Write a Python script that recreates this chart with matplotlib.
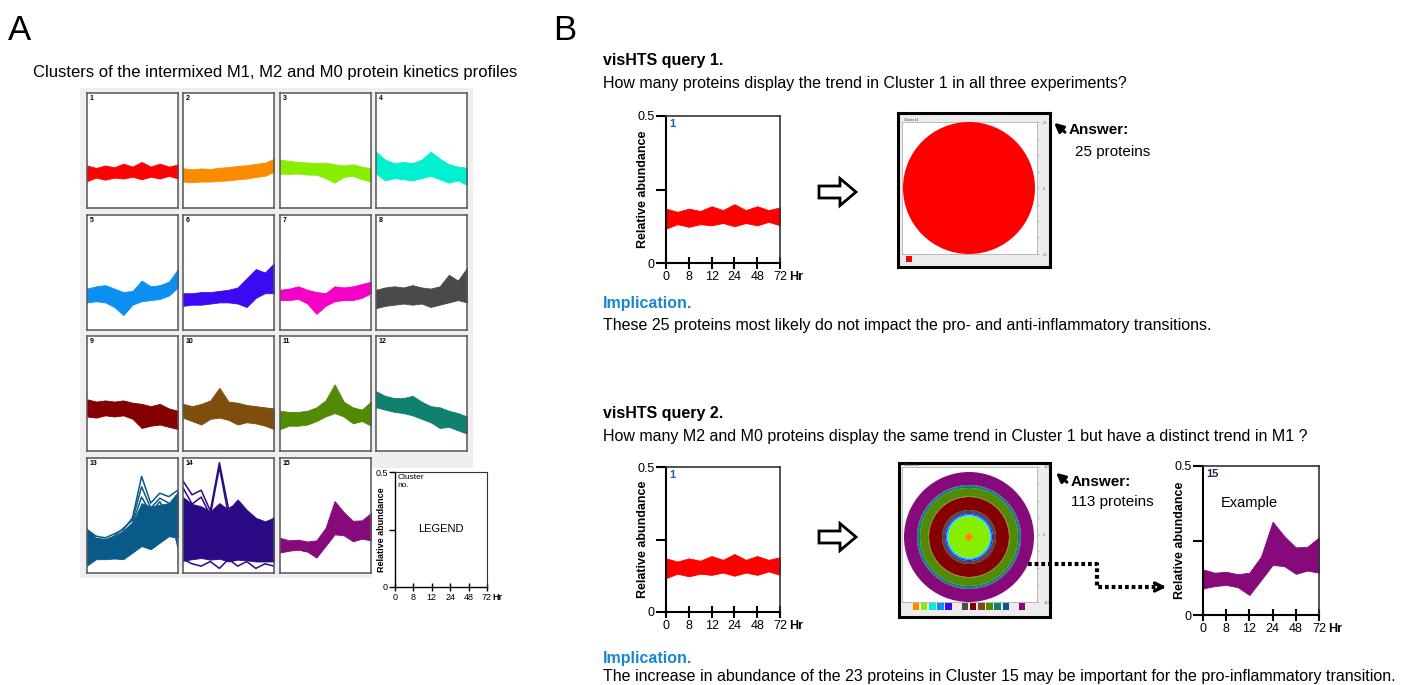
import numpy as np
import matplotlib.pyplot as plt
from matplotlib.patches import Polygon, FancyArrow

plt.rcParams['font.family'] = ['Liberation Sans', 'DejaVu Sans']

W, H = 1418, 685

# time axis: the six sampled points plus half steps between them
time_pts = [0, 0.5, 1, 1.5, 2, 2.5, 3, 3.5, 4, 4.5, 5]
hr_labels = ['0', '8', '12', '24', '48', '72']

cluster_colors = ['#ff0000', '#fb8c00', '#88ee00', '#00f0d0', '#0d8ff2',
                  '#3b0af0', '#f600c8', '#4a4a4a', '#850000', '#7f4e0c',
                  '#528a06', '#108070', '#0a5a88', '#2a0a85', '#860a7a']

# upper / lower envelope of each cluster's profiles (relative abundance)
band_top = [
    [0.185, 0.174, 0.185, 0.177, 0.193, 0.180, 0.200, 0.180, 0.193, 0.180, 0.189],
    [0.173, 0.168, 0.172, 0.170, 0.175, 0.178, 0.183, 0.186, 0.192, 0.197, 0.214],
    [0.210, 0.205, 0.200, 0.198, 0.195, 0.197, 0.190, 0.185, 0.190, 0.180, 0.172],
    [0.245, 0.210, 0.195, 0.200, 0.195, 0.210, 0.245, 0.215, 0.190, 0.180, 0.175],
    [0.180, 0.190, 0.195, 0.180, 0.165, 0.170, 0.215, 0.190, 0.195, 0.210, 0.265],
    [0.160, 0.160, 0.165, 0.165, 0.170, 0.175, 0.185, 0.225, 0.265, 0.250, 0.290],
    [0.175, 0.180, 0.190, 0.175, 0.165, 0.160, 0.190, 0.185, 0.190, 0.200, 0.210],
    [0.175, 0.185, 0.190, 0.185, 0.195, 0.185, 0.180, 0.190, 0.240, 0.215, 0.270],
    [0.225, 0.215, 0.220, 0.215, 0.220, 0.210, 0.205, 0.195, 0.205, 0.185, 0.175],
    [0.205, 0.195, 0.205, 0.220, 0.275, 0.215, 0.210, 0.200, 0.195, 0.190, 0.185],
    [0.175, 0.170, 0.170, 0.175, 0.190, 0.220, 0.290, 0.215, 0.190, 0.180, 0.215],
    [0.260, 0.240, 0.230, 0.230, 0.240, 0.215, 0.195, 0.190, 0.175, 0.165, 0.150],
    [0.189, 0.153, 0.149, 0.153, 0.182, 0.218, 0.304, 0.289, 0.297, 0.304, 0.354],
    [0.330, 0.300, 0.290, 0.268, 0.304, 0.275, 0.320, 0.275, 0.240, 0.225, 0.240],
    [0.153, 0.142, 0.145, 0.137, 0.142, 0.196, 0.313, 0.265, 0.227, 0.229, 0.261],
]
band_bot = [
    [0.117, 0.132, 0.123, 0.132, 0.128, 0.136, 0.125, 0.136, 0.128, 0.140, 0.128],
    [0.115, 0.112, 0.115, 0.115, 0.118, 0.120, 0.125, 0.128, 0.135, 0.140, 0.158],
    [0.150, 0.148, 0.150, 0.145, 0.145, 0.130, 0.110, 0.135, 0.140, 0.125, 0.115],
    [0.150, 0.120, 0.130, 0.125, 0.120, 0.130, 0.140, 0.125, 0.110, 0.120, 0.100],
    [0.120, 0.125, 0.120, 0.100, 0.065, 0.110, 0.125, 0.130, 0.135, 0.150, 0.185],
    [0.105, 0.110, 0.110, 0.115, 0.120, 0.120, 0.115, 0.100, 0.140, 0.160, 0.160],
    [0.130, 0.130, 0.135, 0.115, 0.070, 0.105, 0.125, 0.130, 0.130, 0.140, 0.160],
    [0.095, 0.105, 0.110, 0.115, 0.110, 0.115, 0.100, 0.110, 0.120, 0.130, 0.120],
    [0.150, 0.145, 0.155, 0.150, 0.155, 0.140, 0.100, 0.110, 0.115, 0.105, 0.095],
    [0.145, 0.130, 0.115, 0.140, 0.145, 0.135, 0.115, 0.125, 0.120, 0.110, 0.095],
    [0.095, 0.110, 0.110, 0.115, 0.130, 0.150, 0.165, 0.150, 0.120, 0.130, 0.110],
    [0.190, 0.180, 0.170, 0.165, 0.155, 0.140, 0.125, 0.100, 0.105, 0.090, 0.075],
    [0.032, 0.060, 0.060, 0.063, 0.060, 0.089, 0.117, 0.103, 0.132, 0.160, 0.153],
    [0.053, 0.060, 0.065, 0.058, 0.062, 0.050, 0.058, 0.055, 0.050, 0.050, 0.050],
    [0.089, 0.097, 0.101, 0.093, 0.067, 0.117, 0.168, 0.164, 0.138, 0.149, 0.142],
]
# single stray profiles outside the main bands of clusters 13 and 14
c13_strays = [
    [0.189, 0.160, 0.153, 0.170, 0.189, 0.240, 0.420, 0.304, 0.347, 0.332, 0.361],
    [0.175, 0.146, 0.143, 0.160, 0.195, 0.230, 0.375, 0.282, 0.325, 0.304, 0.110],
    [0.165, 0.150, 0.140, 0.155, 0.180, 0.215, 0.330, 0.262, 0.310, 0.240, 0.125],
]
c14_strays = [
    [0.400, 0.340, 0.360, 0.270, 0.480, 0.280, 0.300, 0.240, 0.220, 0.200, 0.240],
    [0.370, 0.300, 0.330, 0.250, 0.460, 0.250, 0.270, 0.210, 0.200, 0.180, 0.220],
    [0.060, 0.040, 0.030, 0.050, 0.020, 0.060, 0.030, 0.050, 0.020, 0.040, 0.030],
]

# concentric ring view of query 2: clusters (from centre out) and ring outer radius
ring_clusters = [2, 3, 4, 5, 6, 8, 9, 10, 11, 12, 13, 15]
ring_outer = [4, 20.5, 21.8, 22.8, 24, 27, 40, 40.6, 49, 51.3, 52, 65]

fig = plt.figure(figsize=(W / 100, H / 100), dpi=100)


def frac(x0, y0, x1, y1):
    return [x0 / W, 1 - y1 / H, (x1 - x0) / W, (y1 - y0) / H]


def bare(ax):
    ax.set_xticks([])
    ax.set_yticks([])


back = fig.add_axes([0, 0, 1, 1], zorder=-5)
back.set_xlim(0, W)
back.set_ylim(H, 0)
back.axis('off')
top = fig.add_axes([0, 0, 1, 1], zorder=10)
top.set_xlim(0, W)
top.set_ylim(H, 0)
top.axis('off')

# ---------------- panel A ----------------
back.text(8, 40, 'A', fontsize=25)
back.text(275, 77, 'Clusters of the intermixed M1, M2 and M0 protein kinetics profiles',
          fontsize=12, ha='center')
back.add_patch(Polygon([(80, 88), (473, 88), (473, 468), (372, 468), (372, 578), (80, 578)],
                       closed=True, fc='#efefef', ec='none'))

col_x = [87, 183, 280, 376]
row_y = [93, 215, 336, 458]
for k in range(15):
    x0, y0 = col_x[k % 4], row_y[k // 4]
    ax = fig.add_axes(frac(x0, y0, x0 + 91, y0 + 115))
    ax.fill_between(time_pts, band_bot[k], band_top[k], color=cluster_colors[k], lw=0.6)
    if k == 12:
        for s in c13_strays:
            ax.plot(time_pts, s, color=cluster_colors[k], lw=1.1)
    if k == 13:
        for s in c14_strays:
            ax.plot(time_pts, s, color=cluster_colors[k], lw=1.1)
    ax.set_xlim(0, 5)
    ax.set_ylim(0, 0.5)
    bare(ax)
    for sp in ax.spines.values():
        sp.set_color('#555555')
        sp.set_linewidth(1.1)
    ax.text(0.03, 0.98, str(k + 1), transform=ax.transAxes, va='top', ha='left',
            fontsize=5, fontweight='bold')


def kinetics_axes(box, tops, bots, color, tag, tag_color, fs, tag_fs, lw, tlen):
    ax = fig.add_axes(frac(*box))
    if tops is not None:
        ax.fill_between(time_pts, bots, tops, color=color, lw=0.6)
    ax.set_xlim(0, 5)
    ax.set_ylim(0, 0.5)
    ax.set_xticks(range(6))
    ax.set_xticklabels(hr_labels, fontsize=fs)
    ax.set_yticks([0, 0.25, 0.5])
    ax.set_yticklabels(['0', '', '0.5'], fontsize=fs)
    ax.tick_params(axis='x', direction='inout', length=tlen * 1.3, width=lw, pad=1.5)
    ax.tick_params(axis='y', direction='out', length=tlen, width=lw, pad=1)
    for side in ['left', 'bottom']:
        ax.spines[side].set_linewidth(lw)
    for side in ['top', 'right']:
        ax.spines[side].set_linewidth(lw * 0.8)
        ax.spines[side].set_color('#333333')
    ax.set_ylabel('Relative abundance', fontsize=fs, fontweight='bold')
    ax.yaxis.set_label_coords(-0.15, 0.5)
    ax.annotate('Hr', xy=(1, 0), xycoords='axes fraction', xytext=(tlen * 0.9, -tlen * 0.65 - 1.5),
                textcoords='offset points', va='top', ha='left', fontsize=fs, fontweight='bold')
    ax.text(0.03, 0.98, tag, transform=ax.transAxes, va='top', ha='left',
            fontsize=tag_fs, fontweight='bold', color=tag_color)
    return ax


leg = kinetics_axes((395, 472, 487, 587), None, None, None, 'Cluster\nno.', 'black', 6.5, 6, 1.0, 4)
leg.texts[-1].set_fontweight('normal')
leg.text(0.5, 0.5, 'LEGEND', transform=leg.transAxes, ha='center', va='center', fontsize=8)
leg.yaxis.set_label_coords(-0.1, 0.5)

# ---------------- panel B ----------------
back.text(553, 40, 'B', fontsize=25)
blue = '#1a86d0'
body = 11.5
back.text(603, 60, 'visHTS query 1.', fontsize=body, fontweight='bold', va='center')
back.text(603, 83, 'How many proteins display the trend in Cluster 1 in all three experiments?',
          fontsize=body, va='center')
back.text(603, 303, 'Implication.', fontsize=body, fontweight='bold', color=blue, va='center')
back.text(603, 325, 'These 25 proteins most likely do not impact the pro- and anti-inflammatory transitions.',
          fontsize=body, va='center')
back.text(603, 413, 'visHTS query 2.', fontsize=body, fontweight='bold', va='center')
back.text(603, 436, 'How many M2 and M0 proteins display the same trend in Cluster 1 but have a distinct trend in M1 ?',
          fontsize=body, va='center')
back.text(603, 658, 'Implication.', fontsize=body, fontweight='bold', color=blue, va='center')
back.text(603, 676, 'The increase in abundance of the 23 proteins in Cluster 15 may be important for the pro-inflammatory transition.',
          fontsize=body, va='center')

kinetics_axes((666, 116, 780, 263), band_top[0], band_bot[0], cluster_colors[0], '1', '#2060a8', 9, 8, 1.5, 7)
kinetics_axes((666, 467, 780, 612), band_top[0], band_bot[0], cluster_colors[0], '1', '#2060a8', 9, 8, 1.5, 7)
ex = kinetics_axes((1203, 466, 1319, 615), band_top[14], band_bot[14], cluster_colors[14], '15', '#1a2a50', 9, 8, 1.5, 7)
ex.text(0.15, 0.75, 'Example', transform=ex.transAxes, fontsize=10.5, va='center')

for yc in [192, 537]:
    back.add_patch(FancyArrow(819, yc, 37, 0, width=12, head_width=27, head_length=16,
                              length_includes_head=True, fc='white', ec='black', lw=2))


def ring_view(frame_box, inner_box, pie_box, clusters, outer, legend_box, right_labels):
    fr = fig.add_axes(frac(*frame_box))
    fr.set_facecolor('#ececec')
    bare(fr)
    for sp in fr.spines.values():
        sp.set_linewidth(2.2)
    inner = fig.add_axes(frac(*inner_box))
    inner.set_xticks([])
    inner.set_ylim(-1, 1)
    inner.yaxis.tick_right()
    inner.set_yticks([-1, -0.75, -0.5, -0.25, 0, 0.25, 0.5, 0.75, 1])
    inner.set_yticklabels([right_labels, '', '', '', '0', '', '', '', right_labels], fontsize=3, color='#777777')
    inner.tick_params(axis='y', length=1.5, width=0.4, color='#999999', pad=3)
    for sp in inner.spines.values():
        sp.set_color('#b0b0b0')
        sp.set_linewidth(0.6)
    inner.text(0.01, 1.0, 'Cluster1', transform=inner.transAxes, fontsize=3, va='bottom', color='#444444')
    pa = fig.add_axes(frac(*pie_box))
    r_in = 0
    for c, r in zip(clusters, outer):
        pa.pie([1], radius=r / outer[-1], colors=[cluster_colors[c - 1]], startangle=90,
               wedgeprops=dict(width=(r - r_in) / outer[-1], linewidth=0))
        r_in = r
    pa.set_xlim(-1, 1)
    pa.set_ylim(-1, 1)
    pa.axis('off')
    la = fig.add_axes(frac(*legend_box))
    la.bar([c - 1 for c in clusters], 1, width=0.8, color=[cluster_colors[c - 1] for c in clusters])
    la.set_xlim(-0.6, 14.6)
    la.set_ylim(0, 1)
    la.axis('off')


ring_view((898, 113, 1050, 267), (902, 122, 1037, 254), (903, 122, 1035, 254),
          [1], [66], (904, 256, 1028, 262), '25')
ring_view((899, 463, 1050, 617), (902, 467, 1037, 602), (904, 472, 1034, 602),
          ring_clusters, ring_outer, (903, 603, 1027, 610), '113')

# answer callouts
top.annotate('', xy=(1052, 121), xytext=(1067, 134),
             arrowprops=dict(arrowstyle='-|>', color='black', lw=2.2, mutation_scale=13))
top.text(1069, 130, 'Answer:', fontsize=11, fontweight='bold', va='center')
top.text(1075, 152, '25 proteins', fontsize=11, va='center')
top.annotate('', xy=(1054, 471), xytext=(1069, 484),
             arrowprops=dict(arrowstyle='-|>', color='black', lw=2.2, mutation_scale=13))
top.text(1071, 482, 'Answer:', fontsize=11, fontweight='bold', va='center')
top.text(1071, 502, '113 proteins', fontsize=11, va='center')

# dotted link from ring view to the example cluster
top.plot([1028, 1097, 1097, 1160], [564, 564, 587, 587], color='black', lw=3,
         linestyle=(0, (0.9, 0.7)))
top.annotate('', xy=(1169, 587), xytext=(1156, 587),
             arrowprops=dict(arrowstyle='->', color='black', lw=2.5, mutation_scale=14))

fig.savefig('out.png', dpi=100)
